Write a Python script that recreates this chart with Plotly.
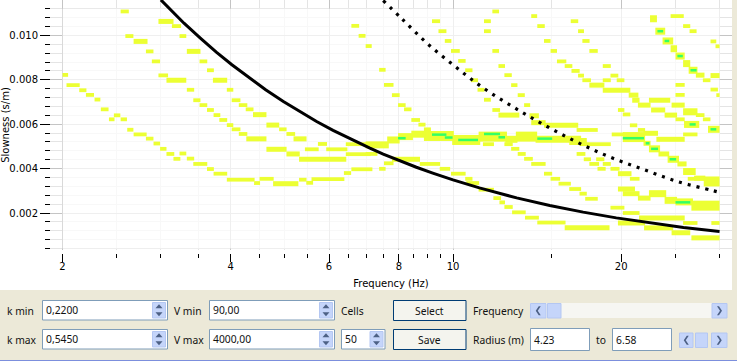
import plotly.graph_objects as go

W, H = 737, 361

# --- chart data (frequency in Hz, slowness in ms/m) ---
freq_major = [2, 4, 6, 8, 10, 20]
freq_minor = [2.5, 3, 3.5, 4.5, 5, 5.5, 6.5, 7, 7.5, 8.5, 9, 9.5, 15, 25, 30]
slow_major = [2, 4, 6, 8, 10]
slow_minor = [0.4, 0.8, 1.2, 1.6, 2.4, 2.8, 3.2, 3.6, 4.4, 4.8, 5.2, 5.6, 6.4, 6.8, 7.2, 7.6, 8.4, 8.8, 9.2, 9.6, 10.4, 10.8, 11.2]

kmax_f = [3.0, 3.3, 3.53, 3.77, 4.02, 4.33, 4.62, 4.97, 5.33, 5.7, 6.1, 6.55, 7.1, 7.5, 8.05, 8.6, 9.2, 10, 11.15, 13, 14.9, 17.1, 19.6, 22.5, 25.85, 30]
kmax_s = [11.6, 10.55, 9.88, 9.25, 8.68, 8.06, 7.55, 7.02, 6.55, 6.12, 5.72, 5.33, 4.92, 4.65, 4.34, 4.06, 3.8, 3.49, 3.13, 2.68, 2.34, 2.04, 1.78, 1.55, 1.35, 1.17]
kmin_f = [7.5, 8.1, 9.0, 10.1, 11.35, 12.85, 14.6, 16.65, 19.05, 21.95, 25.2, 29.05, 29.9]
kmin_s = [11.57, 10.75, 9.63, 8.59, 7.62, 6.76, 5.95, 5.2, 4.53, 3.96, 3.42, 3.02, 2.94]

# ridge pieces: (f start, f end, slowness)
ridge_thin = [
 (2.0,2.04,8.22),(2.04,2.14,7.76),(2.15,2.2,7.53),(2.21,2.27,7.32),(2.29,2.33,7.11),(2.35,2.41,6.67),(2.43,2.47,6.22),(2.48,2.53,6.4),(2.55,2.6,6.22),(2.62,2.67,5.75),
 (2.69,2.82,5.54),(2.83,2.9,5.35),(2.92,2.98,5.13),(3.0,3.06,4.89),(3.08,3.16,4.66),(3.17,3.24,4.44),(3.25,3.32,4.68),(3.35,3.43,4.45),(3.44,3.62,4.21),(3.64,3.72,3.98),(3.74,3.93,3.77),
 (3.95,4.4,3.5),(4.42,4.5,3.35),(4.52,4.76,3.54),(5.32,5.45,3.5),(5.48,5.6,3.36),(5.6,6.37,3.53),(6.4,6.55,3.8),(6.6,7.15,3.97),(7.4,7.55,3.99),(7.55,7.8,4.24),
 (8.75,9.45,4.21),(9.5,9.85,3.99),(9.95,10.5,3.77),(10.55,10.8,3.54),(10.6,11.1,3.35),(11.15,11.8,3.05),(11.85,12.15,2.67),(12.15,12.35,2.48),(12.4,12.75,2.27),(12.8,13.45,2.03),(13.5,14.2,1.79),(14.2,15.85,1.57),
 (2.55,2.62,11.08),(3.15,3.25,10.42),(3.25,3.32,9.97),(3.53,3.62,8.83),(3.64,3.72,8.43),(3.95,4.03,7.55),(4.03,4.15,7.08),(4.15,4.27,6.86),(4.27,4.38,6.67),(4.9,5.02,5.77),(5.05,5.2,5.56),
 (2.6,2.67,9.97),(2.83,2.9,9.28),(2.9,2.98,8.83),(2.98,3.08,8.2),(3.35,3.43,7.55),(3.44,3.52,7.08),(3.53,3.62,6.86),(3.64,3.72,6.64),(3.74,3.82,6.41),(3.83,3.93,6.19),(3.95,4.03,5.96),(4.03,4.15,5.77),(4.15,4.27,5.56),
 (5.45,5.73,4.87),(5.75,5.93,5.11),(5.95,6.45,4.87),(6.45,7.1,5.1),(6.45,7.1,4.65),(7.0,7.3,4.66),
 (6.6,6.77,10.43),(6.8,6.95,9.98),(7.0,7.13,9.52),(7.4,7.55,8.45),(7.55,7.8,7.77),(7.8,8.0,7.31),(8.0,8.2,6.86),(8.2,8.4,6.67),(8.45,8.7,6.19),(8.7,8.9,5.98),(8.9,9.1,5.77),
 (11.35,11.8,5.1),(12.4,12.75,5.1),(12.75,13.1,4.89),(13.1,13.45,4.66),(13.45,13.85,4.44),(13.85,14.6,4.21),
 (11.8,12.1,6.64),(16.7,18.1,5.74),(19.3,20.2,5.54),(16.9,19.1,5.1),(16.7,17.2,4.66),(17.2,17.6,4.42),(17.6,18.2,4.21),(18.1,18.6,4.42),(18.6,19.1,4.21),(19.2,19.8,3.99),(20.8,21.5,3.54),(18.2,18.7,3.99),(14.6,15,3.77),(15,15.5,3.54),
 (26.4,28.1,3.54),(24.6,25.8,10.87),(25.9,26.5,10.42),(26.6,27.2,10.19),(29,29.5,9.73),(29.6,30,9.51),(25.1,25.9,7.77),(25.1,25.9,7.32),(29,29.7,7.56),(29.7,30,7.31),(28.1,28.8,7.98),
 (25.1,25.9,6.22),(27.3,28.1,6.41),(28.1,28.8,6.22),(25.9,27.3,5.54),
 (15.4,15.9,8.83),(15.9,16.3,8.62),(16.35,16.8,8.4),(16.8,17.1,8.19),(17.1,17.6,7.98),(18.6,19.1,7.98),(19.2,19.7,8.19),(19.7,20.2,7.98),(18.6,19.1,8.62),(19.8,20.2,6.64),(20.2,20.7,6.44),(20.8,21.3,5.95),(21.5,22,5.74),
 (11.8,12.05,11.08),(13.85,14.1,10.87),(14.2,14.55,10.42),(16.3,16.7,10.64),(16.8,17.1,10.19),(14.6,14.9,9.75),(17.1,17.5,9.75),(15,15.3,9.3),(17.6,18.1,9.3),
 (9.2,9.45,10.64),(9.45,9.7,10.19),(9.7,9.9,9.75),(9.95,10.25,9.3),(10.25,10.5,8.85),(10.55,10.8,8.43),(10.8,11.05,7.98),(11.1,11.35,7.55),(11.4,11.65,7.1),
 (11.4,11.65,10.64),(11.4,11.65,10.19),(11.8,12.05,9.3),(12.1,12.35,8.62),(12.4,12.7,8.21),(12.75,13,7.76),(13.1,13.4,7.31),(13.45,13.7,6.86),
 (15.5,16.2,3.32),(16.2,16.9,3.08),(16.9,17.3,2.87),(17.3,18.1,2.64),(19.2,20.2,2.24),(20.2,21.5,2.0),(25.9,27.3,1.55),(29.1,30,1.55),
]
ridge_medium = [
 (4.78,5.27,3.32),(7.8,8.7,4.42),(15.9,19.0,1.33),(19.8,22,1.55),(22.05,24.7,1.33),(24.7,26.5,1.11),(26.8,30,0.88),(21.6,25.9,1.78),(19.8,21.1,3.08),(20.2,21.5,2.87),(21.5,22.5,2.67),
 (2.98,3.15,10.63),(3.35,3.52,9.28),(3.73,3.93,7.98),(4.4,4.62,6.43),(4.65,4.87,5.96),(5.2,5.45,5.34),(2.69,2.83,9.73),(3.08,3.32,7.98),(4.28,4.62,5.34),(4.65,5.02,4.87),(5.05,5.3,4.66),(5.32,6.42,4.42),
 (12.1,13.1,6.41),(13.75,14.2,6.38),(13.85,14.6,6.07),(14.6,16.7,5.95),(19.8,20.8,3.77),(22.5,24.4,7.08),(24.7,25.9,6.86),(22.7,23.9,6.64),(24,25.1,6.41),
 (17.6,18.6,7.76),(18.6,20.7,7.53),(20.7,21.4,7.31),(21,21.5,7.08),(21.5,22.5,6.86),(22,23.2,5.59),(23.2,25.9,5.32),(22,22.5,5.14),(23.4,24.3,4.66),(25.3,26.1,4.21),
 (27.3,28.1,8.21),(29,30,8.19),(27.1,28.2,3.57),
]
ridge_wide = [
 (7.0,7.65,5.07),(7.65,8,5.29),(8,8.45,5.44),(8.45,8.9,5.55),(22.6,23.1,10.75),(23.1,23.9,10.19),(23.8,24.7,9.75),(24.6,25.1,9.4),(25.1,25.9,9.07),(25.9,26.5,8.73),(26.5,27.3,8.43),
 (22.5,23.4,4.89),(24.3,25.3,4.42),(25.9,27.1,3.87),(22.5,24,2.87),(24,25.1,2.57),(25.1,26.8,2.5),(25.9,27.3,6.56),(26,27.5,5.99),(28.7,30,5.77),(14.1,16.9,5.32),(12.45,13,5.32),(16.2,17.3,5.22),
]
ridge_band = [(8.9,10,5.47),(10,11.15,5.29),(11.15,12.45,5.44),(13,14.1,5.44),(20.2,22,5.42),(26.8,30,2.33),(28.2,30,3.42)]
ridge_core = [
 (9.2,9.7,5.53),(9.7,9.95,5.4),(10.25,11.05,5.29),(11.4,12.1,5.56),(12.1,12.35,5.41),(14.2,15,5.35),(8,8.2,5.37),(20.2,21.9,5.37),
 (23.3,23.7,10.19),(24,24.3,9.75),(25.3,25.7,9.07),(26.7,27.2,8.43),(22.2,22.4,5.14),(22.7,23.2,4.89),(24.5,25,4.42),(26.6,27.1,5.99),(29,29.5,5.77),(25.1,26.5,2.48),
]

# --- page layout helpers (pixels of the 737x361 window) ---
def px(x): return x / W
def py(y): return 1 - y / H

BEIGE = "#ECE9D8"
YELLOW = "#ECFF33"
GREEN = "#33FF66"
FONT = "DejaVu Sans"
UI_FONT = "Noto Sans"
CELL_PAD = 1.0033

def segments(items, scale=0.001):
    xs, ys = [], []
    for f0, f1, s in items:
        xs += [max(2, f0 / CELL_PAD), min(30, f1 * CELL_PAD), None]
        ys += [s * scale, s * scale, None]
    return xs, ys

fig = go.Figure()
# veil of the spectrum image, above the grid and below the ridges
veil_x = [min(freq_major), max(freq_minor), max(freq_minor), min(freq_major), min(freq_major)]
veil_y = [min(slow_minor) * 0.001, min(slow_minor) * 0.001, max(slow_minor) * 0.001, max(slow_minor) * 0.001, min(slow_minor) * 0.001]
fig.add_trace(go.Scatter(x=veil_x, y=veil_y, mode="lines", fill="toself", fillcolor="rgba(255,255,255,0.72)", line=dict(width=0), hoverinfo="skip", name="image"))
for name, items, width, colour in [
    ("ridge band", ridge_band, 10, YELLOW),
    ("ridge wide", ridge_wide, 7, YELLOW),
    ("ridge medium", ridge_medium, 5, YELLOW),
    ("ridge thin", ridge_thin, 3.8, YELLOW),
    ("ridge core", ridge_core, 2.5, GREEN),
]:
    xs, ys = segments(items)
    fig.add_trace(go.Scatter(x=xs, y=ys, mode="lines", name=name, line=dict(color=colour, width=width), hoverinfo="skip"))
fig.add_trace(go.Scatter(x=kmax_f, y=[v * 0.001 for v in kmax_s], mode="lines", name="k max", line=dict(color="black", width=3)))
fig.add_trace(go.Scatter(x=kmin_f, y=[v * 0.001 for v in kmin_s], mode="lines", name="k min", line=dict(color="black", width=3.2, dash="3px,6px", shape="spline")))

shapes = []
# panels
shapes.append(dict(type="rect", xref="paper", yref="paper", x0=px(0), x1=px(737), y0=py(290), y1=py(361), fillcolor=BEIGE, line_width=0, layer="above"))
shapes.append(dict(type="rect", xref="paper", yref="paper", x0=px(732), x1=px(737), y0=py(0), y1=py(290), fillcolor=BEIGE, line_width=0, layer="above"))
shapes.append(dict(type="rect", xref="paper", yref="paper", x0=px(0), x1=px(737), y0=py(360), y1=py(361), fillcolor="#7C8FDD", line_width=0, layer="above"))

annots = []
def text(x, y, t, anchor="left", size=10.3):
    annots.append(dict(xref="paper", yref="paper", x=px(x), y=py(y), text=t, showarrow=False, xanchor=anchor, yanchor="middle",
                       font=dict(family=UI_FONT, size=size, color="#111111"), borderpad=0, borderwidth=0))

def rect(x0, y0, x1, y1, fill, line=None, lw=1):
    shapes.append(dict(type="rect", xref="paper", yref="paper", x0=px(x0), x1=px(x1), y0=py(y0), y1=py(y1),
                       fillcolor=fill, line=dict(color=line or fill, width=lw if line else 0), layer="above"))

def poly(points, fill):
    d = "M" + " L".join(f"{px(x):.5f},{py(y):.5f}" for x, y in points) + " Z"
    shapes.append(dict(type="path", xref="paper", yref="paper", path=d, fillcolor=fill, line_width=0, layer="above"))

BLUEBTN = "#C5D5FA"
BLUEEDGE = "#B4C7F2"
ARROW = "#4D6185"
BOX = "#7F9DB9"

def spin(x0, y0, x1, y1, value):
    rect(x0, y0, x1, y1, "white", BOX)
    bx0, bx1 = x1 - 15, x1 - 2
    rect(bx0, y0 + 2, bx1, y1 - 2, BLUEBTN, BLUEEDGE)
    cx, cy = (bx0 + bx1) / 2, (y0 + y1) / 2
    poly([(cx - 3.5, cy - 2), (cx + 3.5, cy - 2), (cx, cy - 6)], ARROW)
    poly([(cx - 3.5, cy + 2), (cx + 3.5, cy + 2), (cx, cy + 6)], ARROW)
    text(x0 + 3.5, (y0 + y1) / 2 - 0.5, value)

def button(x0, y0, x1, y1, label):
    shapes.append(dict(type="rect", xref="paper", yref="paper", x0=px(x0), x1=px(x1), y0=py(y0), y1=py(y1),
                       fillcolor="#F4F4EE", line=dict(color="#003C74", width=1), layer="above"))
    text((x0 + x1) / 2, (y0 + y1) / 2 + 0.5, label, anchor="center")

def arrow_btn(x0, y0, x1, y1, s):
    rect(x0, y0, x1, y1, BLUEBTN, BLUEEDGE)
    cx, cy = (x0 + x1) / 2, (y0 + y1) / 2
    poly([(cx - 2.5 * s, cy - 4.5), (cx - 0.5 * s, cy - 4.5), (cx + 2.5 * s, cy), (cx - 0.5 * s, cy + 4.5), (cx - 2.5 * s, cy + 4.5), (cx + 0.5 * s, cy)], ARROW)

text(7, 311, "k min"); text(7, 340, "k max")
text(174, 311, "V min"); text(174, 340, "V max")
text(341, 311, "Cells")
spin(42.5, 300.5, 167.5, 320, "0,2200")
spin(42.5, 329.5, 167.5, 349, "0,5450")
spin(209.5, 300.5, 334.5, 320, "90,00")
spin(209.5, 329.5, 334.5, 349, "4000,00")
spin(341.5, 329.5, 385, 349, "50")
button(393.5, 300.5, 466, 320.5, "Select")
button(393.5, 329.5, 466, 349.5, "Save")
text(473, 311, "Frequency"); text(473, 340, "Radius (m)")
# frequency slider
rect(530, 303, 727, 318, "#F6F6F2")
arrow_btn(530.5, 303.5, 546, 318, -1)
rect(547.5, 303.5, 561, 318, BLUEBTN, BLUEEDGE)
arrow_btn(712, 303.5, 727, 318, 1)
# radius row
rect(530.5, 328.5, 589.5, 350.5, "white", BOX); text(534, 340, "4.23")
text(596, 340, "to")
rect(612.5, 328.5, 671.5, 350.5, "white", BOX); text(616, 340, "6.58")
arrow_btn(679.5, 333, 693, 347.5, -1)
rect(695.5, 333, 707.5, 347.5, BLUEBTN, BLUEEDGE)
arrow_btn(711.5, 333, 727, 347.5, 1)

GRID_MAJOR = "#C4C4C4"
GRID_MINOR = "#E4E4E4"
fig.update_layout(
    width=W, height=H, margin=dict(l=0, r=0, t=0, b=0), paper_bgcolor="white", plot_bgcolor="white",
    showlegend=False, font=dict(family=FONT, size=10, color="black"), shapes=shapes, annotations=annots,
    xaxis=dict(type="log", domain=[px(50), px(732)], range=[0.27866, 1.4994], anchor="free", position=py(253),
               tickmode="array", tickvals=freq_major, ticktext=[str(v) for v in freq_major],
               ticks="outside", ticklen=8, tickcolor="black", tickwidth=1, showline=False, zeroline=False, ticklabelstandoff=-4,
               showgrid=True, gridcolor=GRID_MAJOR, gridwidth=1,
               minor=dict(tickmode="array", tickvals=freq_minor, ticks="outside", ticklen=4, tickcolor="black", tickwidth=1, showgrid=True, gridcolor=GRID_MINOR, gridwidth=1),
               title=dict(text="Frequency (Hz)", font=dict(size=10), standoff=8), automargin=False),
    yaxis=dict(domain=[py(250), 1], range=[0.000333, 0.011595], anchor="free", position=px(50),
               tickmode="array", tickvals=[v * 0.001 for v in slow_major], ticktext=[f"{v * 0.001:.3f}" for v in slow_major],
               ticks="outside", ticklen=10, tickcolor="black", tickwidth=1, showline=False, zeroline=False,
               showgrid=True, gridcolor=GRID_MAJOR, gridwidth=1,
               minor=dict(tickmode="array", tickvals=[v * 0.001 for v in slow_minor], ticks="outside", ticklen=5, tickcolor="black", tickwidth=1, showgrid=True, gridcolor=GRID_MINOR, gridwidth=1),
               title=dict(text="Slowness (s/m)", font=dict(size=10), standoff=3), automargin=False),
)
fig.write_html("out.html", config=dict(displayModeBar=False), post_script="document.body.style.margin='0';document.body.style.overflow='hidden';")
